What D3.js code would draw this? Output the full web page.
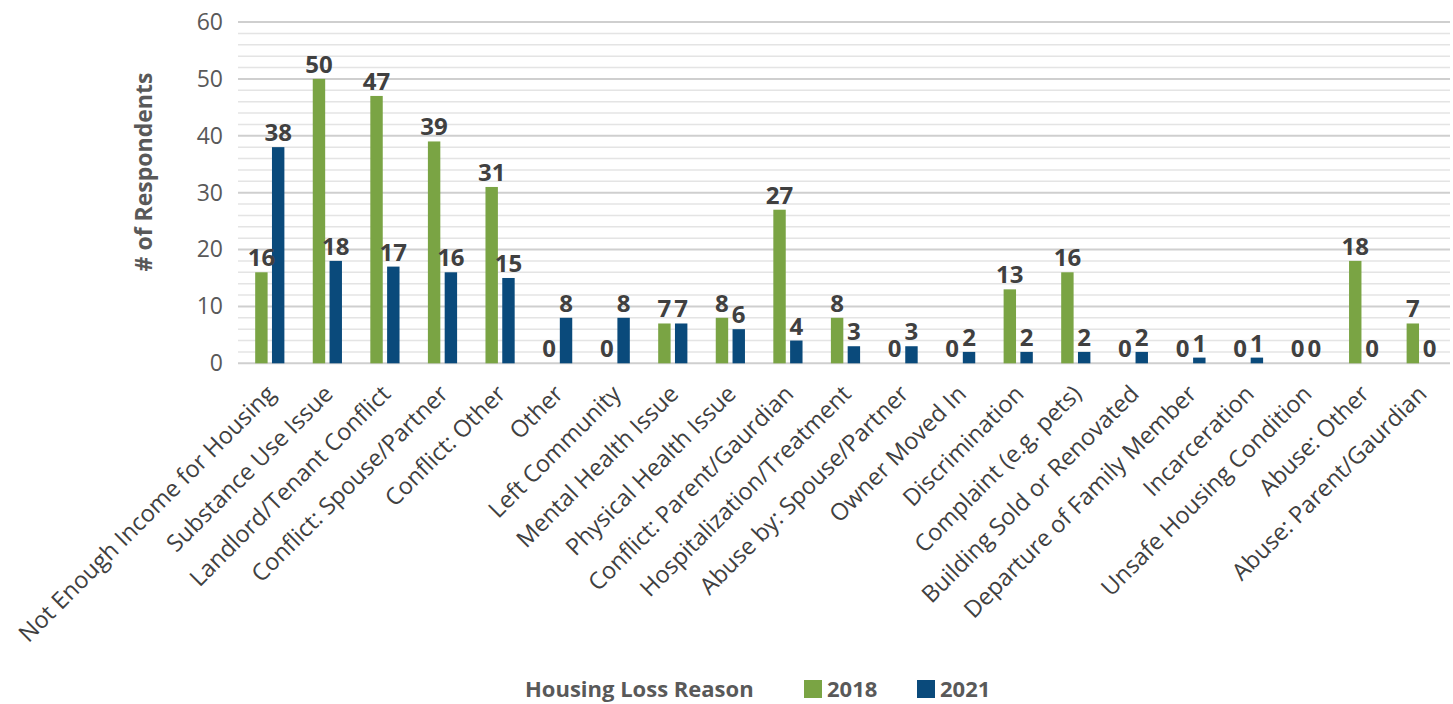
<!DOCTYPE html>
<html>
<head>
<meta charset="utf-8">
<script src="https://cdn.jsdelivr.net/npm/d3@7"></script>
<style>
  html, body { margin: 0; padding: 0; background: #ffffff; }
  svg { display: block; font-family: "Open Sans", "Noto Sans", sans-serif; }
</style>
</head>
<body>
<svg id="chart" width="1453" height="704"></svg>
<script>
// Housing loss reasons reported by respondents, 2018 vs 2021
const categories = [
  "Not Enough Income for Housing", "Substance Use Issue", "Landlord/Tenant Conflict",
  "Conflict: Spouse/Partner", "Conflict: Other", "Other", "Left Community",
  "Mental Health Issue", "Physical Health Issue", "Conflict: Parent/Gaurdian",
  "Hospitalization/Treatment", "Abuse by: Spouse/Partner", "Owner Moved In",
  "Discrimination", "Complaint (e.g. pets)", "Building Sold or Renovated",
  "Departure of Family Member", "Incarceration", "Unsafe Housing Condition",
  "Abuse: Other", "Abuse: Parent/Gaurdian"
];
const values2018 = [16, 50, 47, 39, 31, 0, 0, 7, 8, 27, 8, 0, 0, 13, 16, 0, 0, 0, 0, 18, 7];
const values2021 = [38, 18, 17, 16, 15, 8, 8, 7, 6, 4, 3, 3, 2, 2, 2, 2, 1, 1, 0, 0, 0];
const seriesNames = ["2018", "2021"];
const seriesColors = ["#7aa444", "#0a4a7b"];
const yTicks = [0, 10, 20, 30, 40, 50, 60];
const yMinorTicks = d3.range(0, 61, 2);
const yTitle = "# of Respondents";
const xTitle = "Housing Loss Reason";

const svg = d3.select("#chart");

const x = d3.scaleBand().domain(categories).range([241, 1450]).paddingInner(0).paddingOuter(0);
const y = d3.scaleLinear().domain([0, 60]).range([363.3, 22]);
const xs = d3.scaleBand().domain(seriesNames)
  .range([x.bandwidth() / 2 - 14.6, x.bandwidth() / 2 + 14.6]).paddingInner(0.26);

// minor and major gridlines
svg.append("g").selectAll("line")
  .data(yMinorTicks.filter(v => v % 10 !== 0))
  .join("line")
  .attr("x1", 238).attr("x2", 1450)
  .attr("y1", d => y(d)).attr("y2", d => y(d))
  .attr("stroke", "#e4e4e4").attr("stroke-width", 1.5);

svg.append("g").selectAll("line")
  .data(yTicks)
  .join("line")
  .attr("x1", 238).attr("x2", 1450)
  .attr("y1", d => y(d)).attr("y2", d => y(d))
  .attr("stroke", "#cfcfcf").attr("stroke-width", 2);

// y axis tick labels
const yAxis = d3.axisLeft(y).tickValues(yTicks).tickSize(0).tickPadding(0);
const yg = svg.append("g").attr("transform", "translate(223,0)").call(yAxis);
yg.select(".domain").remove();
yg.selectAll("text")
  .attr("font-family", "'Open Sans', sans-serif")
  .attr("font-size", 23)
  .attr("fill", "#595959");

// bars
const rows = categories.map((c, i) => ({ c, vals: [values2018[i], values2021[i]] }));
const groups = svg.append("g").selectAll("g")
  .data(rows)
  .join("g")
  .attr("transform", d => `translate(${x(d.c)},0)`);

groups.selectAll("rect")
  .data(d => d.vals.map((v, k) => ({ v, s: seriesNames[k], k })))
  .join("rect")
  .attr("x", d => xs(d.s))
  .attr("width", xs.bandwidth())
  .attr("y", d => y(d.v))
  .attr("height", d => y(0) - y(d.v))
  .attr("fill", d => seriesColors[d.k]);

// value labels
groups.selectAll("text")
  .data(d => d.vals.map((v, k) => ({ v, s: seriesNames[k], k })))
  .join("text")
  .attr("x", d => xs(d.s) + xs.bandwidth() / 2)
  .attr("y", d => Math.min(y(d.v) - 6, y(0) - 3.5))
  .attr("text-anchor", "middle")
  .attr("font-size", 24)
  .attr("font-weight", 700)
  .attr("fill", "#404040")
  .text(d => d.v);

// x axis category labels
const xAxis = d3.axisBottom(x).tickSize(0).tickPadding(0);
const xg = svg.append("g").attr("transform", `translate(0,${y(0)})`).call(xAxis);
xg.select(".domain").remove();
xg.selectAll("text")
  .attr("font-family", "'Open Sans', sans-serif")
  .attr("font-size", 23.5)
  .attr("fill", "#404040")
  .attr("text-anchor", "end")
  .attr("y", 0).attr("dy", 0)
  .attr("transform", "translate(7,32) rotate(-45)");

// y axis title
svg.append("text")
  .attr("transform", "translate(152,172) rotate(-90)")
  .attr("text-anchor", "middle")
  .attr("font-size", 23)
  .attr("font-weight", 700)
  .attr("fill", "#595959")
  .text(yTitle);

// axis title + legend row
const legendY = 697;
svg.append("text")
  .attr("x", 525).attr("y", legendY)
  .attr("font-size", 22).attr("font-weight", 700)
  .attr("fill", "#595959")
  .text(xTitle);

const legendX = [804, 917];
const lg = svg.append("g").selectAll("g")
  .data(seriesNames)
  .join("g")
  .attr("transform", (d, i) => `translate(${legendX[i]},${legendY - 17})`);
lg.append("rect").attr("width", 18).attr("height", 18).attr("fill", (d, i) => seriesColors[i]);
lg.append("text")
  .attr("x", 23).attr("y", 17)
  .attr("font-size", 22).attr("font-weight", 700)
  .attr("fill", "#595959")
  .text(d => d);
</script>
</body>
</html>
